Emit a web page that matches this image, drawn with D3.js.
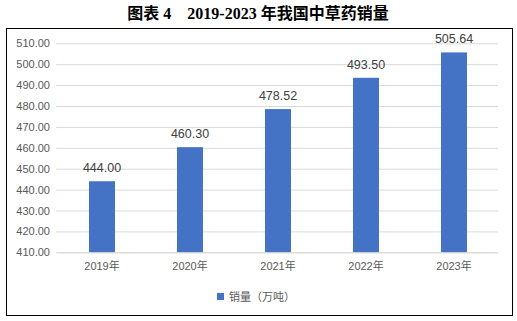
<!DOCTYPE html>
<html><head><meta charset="utf-8">
<script src="https://cdn.jsdelivr.net/npm/d3@7"></script>
<style>body{margin:0;background:#fff}svg{display:block}</style>
</head><body>
<svg id="c" width="517" height="321"></svg>
<script>
const categories = ["2019年","2020年","2021年","2022年","2023年"];
const values = [444.00, 460.30, 478.52, 493.50, 505.64];
const yTicks = [410,420,430,440,450,460,470,480,490,500,510];
const seriesName = "销量（万吨）";
const title = "图表 4　2019-2023 年我国中草药销量";

const svg = d3.select("#c");
const font = "'Liberation Sans', Arial, 'Noto Sans CJK SC', sans-serif";
const L = 58, R = 498, T = 43.3, B = 252.3;

svg.append("text").attr("x", 258).attr("y", 19).attr("text-anchor","middle")
  .attr("font-family","'Liberation Serif','Times New Roman','Noto Sans CJK SC',serif")
  .attr("font-weight","bold").attr("font-size",16).attr("fill","#000").text(title);

svg.append("rect").attr("x",6.5).attr("y",28.5).attr("width",506).attr("height",287)
  .attr("fill","none").attr("stroke","#000").attr("stroke-width",1);

const x = d3.scaleBand().domain(categories).range([L,R]).paddingInner(0.705).paddingOuter(0.3525);
const y = d3.scaleLinear().domain([410,510]).range([B,T]);

const g = svg.append("g");
const yAxis = d3.axisLeft(y).tickValues(yTicks).tickSize(-(R-L+2)).tickFormat(d3.format(".2f"));
const ya = g.append("g").attr("transform",`translate(${L-2},0)`).call(yAxis);
ya.select(".domain").remove();
ya.selectAll(".tick line").attr("stroke","#D9D9D9");
ya.selectAll(".tick text").attr("x",-6).attr("font-family",font).attr("font-size",11).attr("fill","#595959");

g.selectAll("rect.bar").data(values).enter().append("rect")
  .attr("x",(d,i)=>x(categories[i])).attr("width",x.bandwidth())
  .attr("y",d=>y(d)).attr("height",d=>y(410)-y(d)).attr("fill","#4472C4");

g.selectAll("text.val").data(values).enter().append("text")
  .attr("x",(d,i)=>x(categories[i])+x.bandwidth()/2).attr("y",d=>y(d)-9)
  .attr("text-anchor","middle").attr("font-family",font).attr("font-size",12.5).attr("fill","#404040")
  .text(d=>d3.format(".2f")(d));

const xa = g.append("g").attr("transform",`translate(0,${B})`).call(d3.axisBottom(x).tickSize(0).tickPadding(10));
xa.select(".domain").attr("stroke","#D9D9D9");
xa.selectAll(".tick text").attr("font-family",font).attr("font-size",11).attr("fill","#595959");

const lg = svg.append("g");
lg.append("rect").attr("x",217).attr("y",293).attr("width",7).attr("height",7).attr("fill","#4472C4");
lg.append("text").attr("x",229).attr("y",300.5).attr("font-family",font).attr("font-size",11).attr("fill","#595959").text(seriesName);
</script>
</body></html>
